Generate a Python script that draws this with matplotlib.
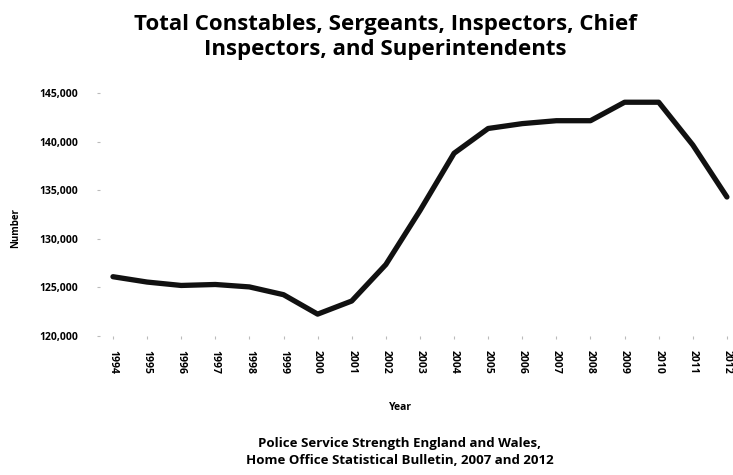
import matplotlib
matplotlib.use('Agg')
import matplotlib.pyplot as plt
from matplotlib.ticker import FuncFormatter

plt.rcParams['font.family'] = ['Open Sans', 'DejaVu Sans']

years = [1994, 1995, 1996, 1997, 1998, 1999, 2000, 2001, 2002, 2003,
         2004, 2005, 2006, 2007, 2008, 2009, 2010, 2011, 2012]
officers = [126100, 125550, 125200, 125300, 125050, 124250, 122250, 123600, 127350, 132900,
            138800, 141350, 141850, 142150, 142150, 144050, 144050, 139650, 134300]
y_ticks = [120000, 125000, 130000, 135000, 140000, 145000]

title = 'Total Constables, Sergeants, Inspectors, Chief\nInspectors, and Superintendents'
source = 'Police Service Strength England and Wales,\nHome Office Statistical Bulletin, 2007 and 2012'

fig = plt.figure(figsize=(7.33, 4.75), dpi=100)
ax = fig.add_axes([100/733, 1-336/475, 630/733, 243/475])

ax.plot(years, officers, color='#111111', linewidth=3.8, solid_joinstyle='round', solid_capstyle='round')

ax.set_xlim(1993.62, 2012.09)
ax.set_ylim(120000, 145000)
ax.set_xticks(years)
ax.set_xticklabels([str(y) for y in years], rotation=270, fontsize=7.5, fontweight='bold')
ax.set_yticks(y_ticks)
ax.yaxis.set_major_formatter(FuncFormatter(lambda v, p: f'{int(v):,}'))
for lab in ax.get_yticklabels():
    lab.set_fontsize(7.5)
    lab.set_fontweight('bold')
ax.tick_params(axis='both', length=2, color='#bbbbbb')
ax.tick_params(axis='y', pad=14)
ax.tick_params(axis='x', pad=8)
for s in ax.spines.values():
    s.set_visible(False)

fig.text(385/733, 1-37/475, title, ha='center', va='center', fontsize=16, fontweight='bold', linespacing=1.2)
fig.text(16/733, 1-228/475, 'Number', rotation=90, ha='center', va='center', fontsize=7, fontweight='bold')
fig.text(400/733, 1-408/475, 'Year', ha='center', va='center', fontsize=7.5, fontweight='bold')
fig.text(400/733, 1-452/475, source, ha='center', va='center', fontsize=9.5, fontweight='bold', linespacing=1.3)

fig.savefig('out.png', dpi=100)
